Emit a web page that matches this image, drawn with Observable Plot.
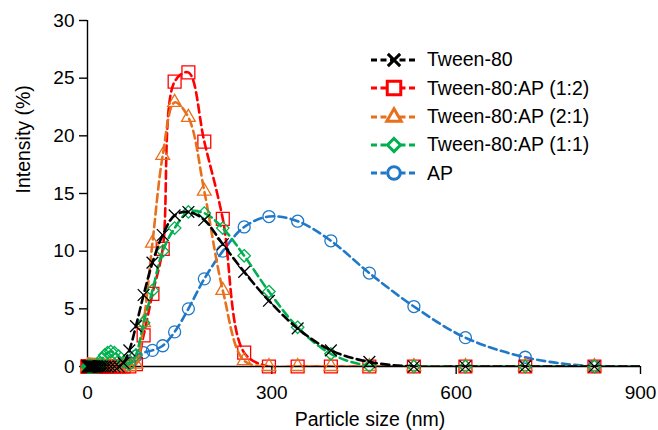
<!DOCTYPE html>
<html>
<head>
<meta charset="utf-8">
<script src="https://cdn.jsdelivr.net/npm/d3@7"></script>
<script src="https://cdn.jsdelivr.net/npm/@observablehq/plot@0.6"></script>
<style>
  html, body { margin: 0; padding: 0; background: #fff; }
  #wrap { position: relative; width: 658px; height: 430px; font-family: "Liberation Sans", Arial, sans-serif; }
  #legend { position: absolute; left: 370px; top: 46px; }
  .row { display: flex; align-items: center; height: 28.3px; }
  .row span { font-size: 19.5px; color: #000; margin-left: 9px; line-height: 1; }
</style>
</head>
<body>
<div id="wrap"><div id="chart"></div><div id="legend"></div></div>
<script>
// Particle size bins (nm)
const sizes = [0.4, 0.4632, 0.5365, 0.6213, 0.7195, 0.8332, 0.9649, 1.117, 1.294, 1.499,
  1.736, 2.010, 2.328, 2.696, 3.122, 3.615, 4.187, 4.849, 5.615, 6.503,
  7.531, 8.721, 10.10, 11.70, 13.54, 15.69, 18.17, 21.04, 24.36, 28.21,
  32.67, 37.84, 43.82, 50.75, 58.77, 68.06, 78.82, 91.28, 105.7, 122.4,
  141.8, 164.2, 190.1, 220.2, 255.0, 295.3, 342.0, 396.1, 458.7, 531.2,
  615.1, 712.4, 825.0, 955.4];

// Intensity (%) per bin
const tween80 = [0, 0, 0, 0, 0, 0, 0, 0, 0, 0,
  0, 0, 0, 0, 0, 0, 0, 0, 0, 0,
  0, 0, 0, 0, 0, 0, 0, 0, 0, 0,
  0, 0, 0, 0, 0.3, 1.4, 3.5, 6.2, 9.0, 11.4,
  13.1, 13.4, 12.7, 10.6, 8.2, 5.7, 3.3, 1.4, 0.4, 0,
  0, 0, 0, 0];
const tweenAP12 = [0, 0, 0, 0, 0, 0, 0, 0, 0, 0,
  0, 0, 0, 0, 0, 0, 0, 0, 0, 0,
  0, 0, 0, 0, 0, 0, 0, 0, 0, 0,
  0, 0, 0, 0, 0, 0, 0.2, 2.7, 6.3, 10.2,
  24.7, 25.5, 19.5, 12.8, 1.2, 0, 0, 0, 0, 0,
  0, 0, 0, 0];
const tweenAP21 = [0, 0, 0, 0, 0, 0, 0, 0, 0, 0,
  0, 0, 0, 0, 0, 0, 0, 0, 0, 0,
  0, 0, 0, 0, 0, 0, 0, 0, 0, 0,
  0, 0, 0, 0, 0, 0, 0.2, 3.8, 10.7, 18.3,
  22.9, 21.6, 15.2, 6.6, 0.5, 0, 0, 0, 0, 0,
  0, 0, 0, 0];
const tweenAP11 = [0, 0, 0, 0, 0, 0, 0, 0, 0, 0,
  0, 0, 0, 0, 0, 0, 0, 0, 0, 0,
  0, 0, 0, 0, 0, 0, 0, 0.3, 0.7, 1.0,
  1.2, 1.3, 1.2, 0.9, 0.4, 0.2, 1.0, 3.8, 6.6, 10.0,
  12.0, 13.4, 13.3, 12.0, 9.6, 6.5, 3.4, 1.1, 0.05, 0,
  0, 0, 0, 0];
const ap = [0, 0, 0, 0, 0, 0, 0, 0, 0, 0,
  0, 0, 0, 0, 0, 0, 0, 0, 0, 0,
  0, 0, 0, 0, 0, 0, 0, 0, 0, 0,
  0, 0, 0, 0, 0, 0.3, 0.9, 1.2, 1.4, 1.8,
  3.0, 5.0, 7.6, 10.0, 12.1, 13.0, 12.6, 10.9, 8.1, 5.2,
  2.5, 0.8, 0, 0];

const seriesNames = ["Tween-80", "Tween-80:AP (1:2)", "Tween-80:AP (2:1)", "Tween-80:AP (1:1)", "AP"];
const seriesValues = [tween80, tweenAP12, tweenAP21, tweenAP11, ap];
const colors = ["#000000", "#ff0000", "#e8701c", "#00b050", "#1f78c8"];
const symbols = ["times", "square2", "triangle2", "diamond2", "circle"];
const radii = [5.4, 8.2, 6.6, 5.6, 6.0];
const xTicks = [0, 300, 600, 900];
const yTicks = [0, 5, 10, 15, 20, 25, 30];

const tables = seriesNames.map((name, k) =>
  sizes.map((s, i) => ({size: s, value: seriesValues[k][i], series: name})));

const drawOrder = [4, 1, 2, 3, 0];
const marks = [
  Plot.ruleY([0], {stroke: "#000", strokeWidth: 1.4}),
  Plot.ruleX([0], {stroke: "#000", strokeWidth: 1.4}),
  Plot.axisX(xTicks, {tickSize: 8, tickPadding: 11, strokeWidth: 1.4, label: null, fontSize: 19}),
  Plot.axisY(yTicks, {tickSize: 8, tickPadding: 5, strokeWidth: 1.4, label: null, fontSize: 19}),
  Plot.text(["Intensity (%)"], {frameAnchor: "left", dx: -64, rotate: -90, fontSize: 19.5, fill: "#000"}),
  Plot.text(["Particle size (nm)"], {frameAnchor: "bottom", dx: 6, dy: 53, lineAnchor: "middle", fontSize: 19.5, fill: "#000"})
];
for (const k of drawOrder) {
  marks.push(Plot.line(tables[k], {x: "size", y: "value", stroke: colors[k], strokeWidth: 2.6,
    strokeDasharray: "8,4.5", curve: "catmull-rom", clip: true}));
  marks.push(Plot.dot(tables[k].filter(d => d.size <= 900), {x: "size", y: "value", symbol: () => symbols[k],
    r: radii[k], stroke: colors[k], strokeWidth: 1.3, fill: "none"}));
}

const chart = Plot.plot({
  width: 658,
  height: 430,
  marginLeft: 87,
  marginRight: 18,
  marginTop: 20,
  marginBottom: 64,
  style: {fontFamily: "Liberation Sans, Arial, sans-serif", fontSize: "19px", color: "#000", background: "#fff"},
  x: {domain: [0, 900]},
  y: {domain: [0, 30]},
  symbol: {type: "identity"},
  marks
});
document.getElementById("chart").appendChild(chart);

// Legend
const legend = d3.select("#legend");
const symMap = {times: d3.symbolTimes, square2: d3.symbolSquare2, triangle2: d3.symbolTriangle2, diamond2: d3.symbolDiamond2, circle: d3.symbolCircle};
seriesNames.forEach((name, k) => {
  const row = legend.append("div").attr("class", "row");
  const svg = row.append("svg").attr("width", 48).attr("height", 28);
  svg.append("line").attr("x1", 1).attr("x2", 47).attr("y1", 14).attr("y2", 14)
    .attr("stroke", colors[k]).attr("stroke-width", 2.8).attr("stroke-dasharray", "6,3.5");
  svg.append("path").attr("transform", "translate(24,14)")
    .attr("d", d3.symbol(symMap[symbols[k]], radii[k] * radii[k] * Math.PI * 1.1)())
    .attr("fill", "#fff").attr("stroke", colors[k]).attr("stroke-width", 3);
  row.append("span").text(name);
});
</script>
</body>
</html>
